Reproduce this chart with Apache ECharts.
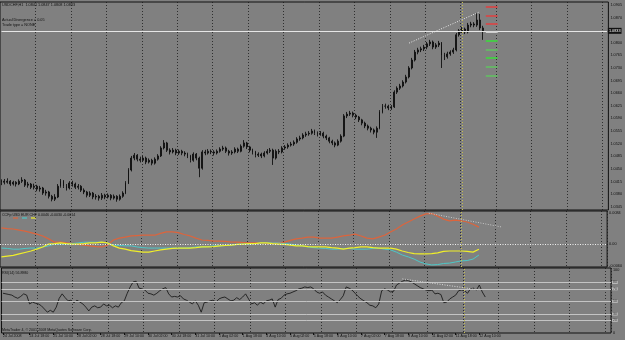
<!DOCTYPE html>
<html>
<head>
<meta charset="utf-8">
<style>
  html, body { margin: 0; padding: 0; background: #808080; }
  #main { width: 625px; height: 340px; }
</style>
<script src="https://cdn.jsdelivr.net/npm/echarts@6/dist/echarts.min.js"></script>
</head>
<body>
<div id="main"></div>
<script>
// trading days shown, each split into 2-hour bars
const days = ['24 Jul', '25 Jul', '28 Jul', '29 Jul', '30 Jul', '31 Jul', '1 Aug', '4 Aug', '5 Aug',
  '6 Aug', '7 Aug', '8 Aug', '11 Aug', '12 Aug', '13 Aug', '14 Aug', '15 Aug', '18 Aug'];
const hours = ['00:00', '02:00', '04:00', '06:00', '08:00', '10:00', '12:00', '14:00', '16:00', '18:00', '20:00', '22:00'];

// USDCHF [open, close, low, high]
const candles = [
  [1.0412, 1.0416, 1.0405, 1.0421], [1.0416, 1.0413, 1.0407, 1.0422], [1.0413, 1.0416, 1.0409, 1.0424],
  [1.0416, 1.0408, 1.0403, 1.0419], [1.0408, 1.0413, 1.0404, 1.0417], [1.0413, 1.0408, 1.0401, 1.0416],
  [1.0408, 1.0416, 1.0405, 1.0421], [1.0416, 1.0419, 1.0411, 1.0427], [1.0419, 1.0405, 1.0400, 1.0422],
  [1.0405, 1.0408, 1.0398, 1.0414], [1.0408, 1.0399, 1.0394, 1.0411], [1.0399, 1.0402, 1.0393, 1.0409],
  [1.0402, 1.0394, 1.0388, 1.0406], [1.0394, 1.0397, 1.0387, 1.0403], [1.0397, 1.0383, 1.0378, 1.0400],
  [1.0383, 1.0386, 1.0376, 1.0392], [1.0386, 1.0374, 1.0368, 1.0389], [1.0374, 1.0366, 1.0360, 1.0378],
  [1.0366, 1.0372, 1.0361, 1.0380], [1.0372, 1.0402, 1.0369, 1.0408], [1.0402, 1.0416, 1.0398, 1.0422],
  [1.0416, 1.0402, 1.0397, 1.0419], [1.0402, 1.0397, 1.0390, 1.0408], [1.0397, 1.0411, 1.0393, 1.0416],
  [1.0411, 1.0408, 1.0401, 1.0417], [1.0408, 1.0399, 1.0394, 1.0412], [1.0399, 1.0402, 1.0393, 1.0408],
  [1.0402, 1.0391, 1.0386, 1.0405], [1.0391, 1.0386, 1.0380, 1.0396], [1.0386, 1.0377, 1.0371, 1.0389],
  [1.0377, 1.0383, 1.0372, 1.0388], [1.0383, 1.0372, 1.0366, 1.0386], [1.0372, 1.0374, 1.0365, 1.0380],
  [1.0374, 1.0369, 1.0362, 1.0378], [1.0369, 1.0377, 1.0364, 1.0383], [1.0377, 1.0372, 1.0366, 1.0381],
  [1.0372, 1.0377, 1.0368, 1.0382], [1.0377, 1.0369, 1.0363, 1.0380], [1.0369, 1.0374, 1.0365, 1.0379],
  [1.0374, 1.0366, 1.0359, 1.0377], [1.0366, 1.0374, 1.0362, 1.0379], [1.0374, 1.0383, 1.0370, 1.0388],
  [1.0383, 1.0411, 1.0380, 1.0416], [1.0411, 1.0447, 1.0408, 1.0452], [1.0447, 1.0480, 1.0443, 1.0486],
  [1.0480, 1.0488, 1.0474, 1.0494], [1.0488, 1.0477, 1.0471, 1.0491], [1.0477, 1.0474, 1.0468, 1.0484],
  [1.0474, 1.0480, 1.0470, 1.0486], [1.0480, 1.0469, 1.0463, 1.0484], [1.0469, 1.0474, 1.0465, 1.0479],
  [1.0474, 1.0466, 1.0460, 1.0478], [1.0466, 1.0477, 1.0462, 1.0482], [1.0477, 1.0486, 1.0473, 1.0491],
  [1.0486, 1.0508, 1.0483, 1.0513], [1.0508, 1.0522, 1.0504, 1.0530], [1.0522, 1.0502, 1.0497, 1.0525],
  [1.0502, 1.0497, 1.0490, 1.0507], [1.0497, 1.0502, 1.0493, 1.0508], [1.0502, 1.0494, 1.0488, 1.0506],
  [1.0494, 1.0499, 1.0489, 1.0504], [1.0499, 1.0494, 1.0488, 1.0503], [1.0494, 1.0491, 1.0485, 1.0499],
  [1.0491, 1.0486, 1.0480, 1.0495], [1.0486, 1.0474, 1.0468, 1.0489], [1.0474, 1.0491, 1.0470, 1.0496],
  [1.0491, 1.0480, 1.0474, 1.0494], [1.0480, 1.0452, 1.0427, 1.0484], [1.0452, 1.0497, 1.0448, 1.0502],
  [1.0497, 1.0494, 1.0488, 1.0503], [1.0494, 1.0499, 1.0490, 1.0505], [1.0499, 1.0497, 1.0491, 1.0504],
  [1.0497, 1.0494, 1.0487, 1.0502], [1.0494, 1.0499, 1.0490, 1.0504], [1.0499, 1.0505, 1.0495, 1.0510],
  [1.0505, 1.0508, 1.0500, 1.0514], [1.0508, 1.0499, 1.0494, 1.0512], [1.0499, 1.0494, 1.0487, 1.0503],
  [1.0494, 1.0497, 1.0489, 1.0502], [1.0497, 1.0505, 1.0493, 1.0510], [1.0505, 1.0499, 1.0494, 1.0509],
  [1.0499, 1.0513, 1.0496, 1.0518], [1.0513, 1.0522, 1.0509, 1.0530], [1.0522, 1.0511, 1.0505, 1.0525],
  [1.0511, 1.0502, 1.0496, 1.0514], [1.0502, 1.0497, 1.0490, 1.0506], [1.0497, 1.0488, 1.0482, 1.0500],
  [1.0488, 1.0491, 1.0483, 1.0496], [1.0491, 1.0486, 1.0480, 1.0495], [1.0486, 1.0494, 1.0482, 1.0499],
  [1.0494, 1.0499, 1.0490, 1.0505], [1.0499, 1.0502, 1.0494, 1.0508], [1.0502, 1.0480, 1.0461, 1.0506],
  [1.0480, 1.0499, 1.0476, 1.0504], [1.0499, 1.0497, 1.0491, 1.0505], [1.0497, 1.0508, 1.0493, 1.0513],
  [1.0508, 1.0511, 1.0503, 1.0516], [1.0511, 1.0516, 1.0506, 1.0521], [1.0516, 1.0519, 1.0512, 1.0525],
  [1.0519, 1.0524, 1.0514, 1.0529], [1.0524, 1.0533, 1.0520, 1.0538], [1.0533, 1.0536, 1.0528, 1.0542],
  [1.0536, 1.0544, 1.0532, 1.0549], [1.0544, 1.0547, 1.0539, 1.0553], [1.0547, 1.0549, 1.0542, 1.0555],
  [1.0549, 1.0555, 1.0545, 1.0561], [1.0555, 1.0549, 1.0544, 1.0559], [1.0549, 1.0547, 1.0540, 1.0554],
  [1.0547, 1.0549, 1.0542, 1.0555], [1.0549, 1.0541, 1.0535, 1.0553], [1.0541, 1.0536, 1.0530, 1.0545],
  [1.0536, 1.0527, 1.0521, 1.0539], [1.0527, 1.0522, 1.0516, 1.0531], [1.0522, 1.0516, 1.0510, 1.0526],
  [1.0516, 1.0527, 1.0513, 1.0532], [1.0527, 1.0541, 1.0523, 1.0546], [1.0541, 1.0597, 1.0538, 1.0602],
  [1.0597, 1.0602, 1.0591, 1.0608], [1.0602, 1.0605, 1.0597, 1.0611], [1.0605, 1.0599, 1.0593, 1.0609],
  [1.0599, 1.0594, 1.0588, 1.0603], [1.0594, 1.0586, 1.0580, 1.0597], [1.0586, 1.0577, 1.0571, 1.0589],
  [1.0577, 1.0569, 1.0563, 1.0581], [1.0569, 1.0563, 1.0557, 1.0573], [1.0563, 1.0558, 1.0551, 1.0567],
  [1.0558, 1.0552, 1.0546, 1.0562], [1.0552, 1.0563, 1.0536, 1.0568], [1.0563, 1.0608, 1.0560, 1.0613],
  [1.0608, 1.0624, 1.0604, 1.0630], [1.0624, 1.0624, 1.0617, 1.0631], [1.0624, 1.0619, 1.0613, 1.0628],
  [1.0619, 1.0622, 1.0614, 1.0627], [1.0622, 1.0663, 1.0619, 1.0668], [1.0663, 1.0674, 1.0658, 1.0679],
  [1.0674, 1.0680, 1.0669, 1.0686], [1.0680, 1.0691, 1.0676, 1.0696], [1.0691, 1.0705, 1.0687, 1.0711],
  [1.0705, 1.0730, 1.0701, 1.0735], [1.0730, 1.0752, 1.0726, 1.0758], [1.0752, 1.0774, 1.0748, 1.0780],
  [1.0774, 1.0780, 1.0768, 1.0786], [1.0780, 1.0783, 1.0774, 1.0789], [1.0783, 1.0788, 1.0777, 1.0794],
  [1.0788, 1.0797, 1.0782, 1.0802], [1.0797, 1.0802, 1.0791, 1.0808], [1.0802, 1.0788, 1.0782, 1.0806],
  [1.0788, 1.0794, 1.0783, 1.0799], [1.0794, 1.0799, 1.0788, 1.0805], [1.0799, 1.0766, 1.0730, 1.0802],
  [1.0766, 1.0761, 1.0752, 1.0772], [1.0761, 1.0769, 1.0756, 1.0775], [1.0769, 1.0774, 1.0764, 1.0779],
  [1.0774, 1.0780, 1.0769, 1.0786], [1.0780, 1.0822, 1.0776, 1.0827], [1.0822, 1.0833, 1.0817, 1.0838],
  [1.0833, 1.0838, 1.0827, 1.0844], [1.0838, 1.0830, 1.0824, 1.0842], [1.0830, 1.0849, 1.0826, 1.0855],
  [1.0849, 1.0852, 1.0843, 1.0858], [1.0852, 1.0849, 1.0843, 1.0857], [1.0849, 1.0863, 1.0844, 1.0883],
  [1.0863, 1.0841, 1.0835, 1.0880], [1.0841, 1.0833, 1.0808, 1.0847]
];

// price axis labels (1.0835 hidden under the bid box)
const priceTicks = [1.0905, 1.0870, 1.0800, 1.0765, 1.0730, 1.0695, 1.0660, 1.0625, 1.0590,
  1.0555, 1.0520, 1.0485, 1.0450, 1.0415, 1.0380, 1.0345];
const bidPrice = 1.0833;
// levels drawn to the right of the last bar
const levelPrices = [1.0899, 1.0876, 1.0852, 1.0830, 1.0805, 1.0781, 1.0757, 1.0733, 1.0708];
// dotted trendline on price: [bar index, price]
const priceTrend = [[138, 1.0799], [162, 1.0886]];

// CCFp currency strength, one value every 4 hours
const ccfUSD = [0.0044, 0.0042, 0.0041, 0.0038, 0.0035, 0.0031, 0.0027, 0.0022, 0.0014, 0.0005,
  0.0005, 0.0003, 0.0001, -0.0001, -0.0003, -0.0005, -0.0007, -0.0008, -0.0003, 0.0011,
  0.0016, 0.0019, 0.0022, 0.0023, 0.0024, 0.0024, 0.0024, 0.0029, 0.0033, 0.0033,
  0.0031, 0.0026, 0.0022, 0.0016, 0.0011, 0.0010, 0.0008, 0.0008, 0.0007, 0.0005,
  0.0005, 0.0004, 0.0003, 0.0003, 0.0003, 0.0001, 0.0003, 0.0003, 0.0005, 0.0010,
  0.0014, 0.0016, 0.0019, 0.0019, 0.0016, 0.0016, 0.0016, 0.0019, 0.0022, 0.0024,
  0.0027, 0.0022, 0.0016, 0.0014, 0.0019, 0.0024, 0.0033, 0.0041, 0.0052, 0.0060,
  0.0068, 0.0076, 0.0082, 0.0083, 0.0076, 0.0068, 0.0063, 0.0065, 0.0063, 0.0060,
  0.0054, 0.0046];
const ccfEUR = [-0.0011, -0.0012, -0.0014, -0.0014, -0.0012, -0.0011, -0.0011, -0.0008, -0.0005, 0.0000,
  0.0000, 0.0000, 0.0001, 0.0003, 0.0005, 0.0005, 0.0005, 0.0005, 0.0003, -0.0003,
  -0.0004, -0.0005, -0.0005, -0.0008, -0.0010, -0.0011, -0.0011, -0.0011, -0.0011, -0.0011,
  -0.0011, -0.0011, -0.0010, -0.0008, -0.0008, -0.0007, -0.0005, -0.0005, -0.0004, -0.0003,
  -0.0001, 0.0000, 0.0000, 0.0001, 0.0003, 0.0003, 0.0003, 0.0003, 0.0001, 0.0000,
  -0.0003, -0.0005, -0.0008, -0.0010, -0.0011, -0.0012, -0.0014, -0.0014, -0.0012, -0.0012,
  -0.0014, -0.0014, -0.0014, -0.0012, -0.0011, -0.0014, -0.0016, -0.0022, -0.0030, -0.0035,
  -0.0041, -0.0049, -0.0054, -0.0057, -0.0056, -0.0053, -0.0052, -0.0049, -0.0046, -0.0045,
  -0.0041, -0.0030];
const ccfCHF = [-0.0035, -0.0033, -0.0031, -0.0027, -0.0023, -0.0019, -0.0014, -0.0008, 0.0000, 0.0001,
  0.0003, 0.0001, 0.0000, 0.0000, 0.0001, 0.0003, 0.0003, 0.0005, 0.0003, -0.0005,
  -0.0011, -0.0014, -0.0018, -0.0020, -0.0022, -0.0022, -0.0019, -0.0016, -0.0014, -0.0012,
  -0.0011, -0.0011, -0.0011, -0.0010, -0.0008, -0.0008, -0.0007, -0.0005, -0.0004, -0.0003,
  -0.0001, 0.0000, 0.0001, 0.0001, 0.0003, 0.0003, 0.0001, 0.0000, -0.0001, -0.0003,
  -0.0005, -0.0005, -0.0007, -0.0008, -0.0008, -0.0008, -0.0010, -0.0011, -0.0014, -0.0011,
  -0.0010, -0.0008, -0.0008, -0.0010, -0.0011, -0.0011, -0.0011, -0.0014, -0.0019, -0.0023,
  -0.0026, -0.0027, -0.0027, -0.0026, -0.0024, -0.0020, -0.0019, -0.0019, -0.0019, -0.0020,
  -0.0022, -0.0014];
const ccfTicks = [-0.0060, 0, 0.0084];
const ccfTrend = [[145, 0.0084], [170, 0.0046]];

// RSI(14), one value per bar
const rsi = [63, 62, 61, 60, 57, 55, 58, 62, 60, 46, 49, 47, 46, 43, 38, 33, 36, 33, 41, 55,
  62, 56, 51, 52, 48, 52, 49, 46, 41, 35, 41, 43, 40, 41, 46, 43, 44, 40, 43, 41,
  48, 51, 63, 73, 81, 82, 71, 70, 68, 63, 62, 60, 63, 67, 70, 72, 62, 57, 58, 57,
  59, 54, 52, 49, 46, 51, 44, 33, 48, 49, 51, 52, 49, 54, 56, 57, 54, 51, 52, 56,
  53, 57, 62, 54, 46, 48, 44, 49, 46, 51, 52, 54, 41, 53, 55, 60, 62, 63, 65, 67,
  70, 71, 73, 72, 73, 70, 65, 63, 65, 60, 57, 54, 51, 48, 53, 59, 73, 71, 68, 63,
  58, 54, 51, 48, 44, 43, 40, 46, 67, 70, 68, 65, 66, 76, 79, 82, 84, 83, 81, 78,
  75, 72, 70, 68, 67, 68, 62, 63, 61, 48, 49, 54, 57, 60, 67, 68, 67, 63, 70, 71,
  68, 76, 65, 57];
const rsiLevels = [80, 70, 50, 30, 20];
const rsiTrend = [[135, 85.7], [161, 68.3]];

const categories = [];
days.forEach(d => hours.forEach(h => categories.push(d + ' ' + h)));
const lastBar = candles.length - 1;
const lastSlot = 205;
const dayStart = 13 * hours.length; // 12 Aug 00:00

const ccfPoints = arr => arr.map((v, k) => [categories[k * 2], v]);
const tinyFont = 'Liberation Sans, Arial, sans-serif';

const sepLine = { show: true, interval: i => i > 0 && i % hours.length === 0, lineStyle: { color: '#1a1a1a', type: [1, 2], width: 0.8 } };
const yellowSep = { xAxis: categories[dayStart], lineStyle: { color: '#c8c050', type: [1, 2], width: 1 } };
const showLabel = i => i === 0 || (i >= 9 && i <= lastBar && (i - 9) % 8 === 0);

function xAxisFor(grid, withLabels) {
  return {
    type: 'category', gridIndex: grid, data: categories, max: lastSlot, boundaryGap: true,
    axisLine: { show: false },
    axisTick: withLabels ? {
      show: true, length: 2, alignWithLabel: true, interval: showLabel, lineStyle: { color: '#111' }
    } : { show: false },
    axisLabel: withLabels ? {
      show: true, fontSize: 3.6, color: '#111', fontFamily: tinyFont, margin: 1, align: 'left',
      interval: showLabel, formatter: (v, i) => i === 0 ? '24 Jul 2008' : v
    } : { show: false },
    splitLine: sepLine
  };
}

const levelColors = ['#d24a4a', '#d24a4a', '#d24a4a', '#d8d8d8', '#44d044', '#66b866', '#44d044', '#66b866', '#66b866'];

const chart = echarts.init(document.getElementById('main'), null, { renderer: 'canvas' });
chart.setOption({
  animation: false,
  backgroundColor: '#808080',
  grid: [
    { left: 0, right: 14, top: 2, height: 208, show: true, borderColor: '#111', borderWidth: 1 },
    { left: 0, right: 14, top: 211, height: 56, show: true, borderColor: '#111', borderWidth: 1 },
    { left: 0, right: 14, top: 268, height: 65, show: true, borderColor: '#111', borderWidth: 1 }
  ],
  xAxis: [xAxisFor(0, false), xAxisFor(1, false), xAxisFor(2, true)],
  yAxis: [
    {
      type: 'value', gridIndex: 0, position: 'right', min: 1.0336, max: 1.0913,
      axisLine: { show: false }, axisTick: { show: false }, splitLine: { show: false },
      axisLabel: { customValues: priceTicks, fontSize: 3.8, color: '#111', fontFamily: tinyFont, margin: 2,
        formatter: v => v.toFixed(4) }
    },
    {
      type: 'value', gridIndex: 1, position: 'right', min: -0.00626, max: 0.0090,
      axisLine: { show: false }, axisTick: { show: false }, splitLine: { show: false },
      axisLabel: { customValues: ccfTicks, fontSize: 3.8, color: '#111', fontFamily: tinyFont, margin: 2,
        formatter: v => v === 0 ? '0.00' : v.toFixed(4) }
    },
    {
      type: 'value', gridIndex: 2, position: 'right', min: 0, max: 103,
      axisLine: { show: false }, axisTick: { show: false }, splitLine: { show: false },
      axisLabel: { customValues: [0, 100], fontSize: 3.8, color: '#111', fontFamily: tinyFont, margin: 2 }
    }
  ],
  series: [
    {
      type: 'candlestick', xAxisIndex: 0, yAxisIndex: 0, data: candles, barMaxWidth: 1.4,
      itemStyle: { color: '#111', color0: '#111', borderColor: '#111', borderColor0: '#111', borderWidth: 0.9 },
      markLine: {
        symbol: 'none', silent: true,
        data: [
          [{ coord: [categories[0], bidPrice], lineStyle: { color: '#e6e6e6', type: 'solid', width: 1.2 } },
           { coord: [categories[lastSlot], bidPrice],
             label: { show: true, position: 'end', distance: 1, formatter: bidPrice.toFixed(4), color: '#fff',
               backgroundColor: '#111', fontSize: 3.8, fontFamily: tinyFont, padding: [1, 1] } }],
          [{ coord: [categories[priceTrend[0][0]], priceTrend[0][1]], lineStyle: { color: '#e8e8e8', type: [1, 1.5], width: 1 } },
           { coord: [categories[priceTrend[1][0]], priceTrend[1][1]] }],
          yellowSep,
          ...levelPrices.map((p, k) => [
            { coord: [categories[lastBar + 1], p], lineStyle: { color: levelColors[k], type: 'solid', width: 1.8 } },
            { coord: [categories[lastBar + 5], p] }
          ])
        ],
        label: { show: false }
      }
    },
    {
      type: 'line', xAxisIndex: 1, yAxisIndex: 1, data: ccfPoints(ccfUSD), showSymbol: false,
      lineStyle: { color: '#dc643c', width: 1.2 },
      markLine: {
        symbol: 'none', silent: true, label: { show: false },
        data: [
          { yAxis: 0, lineStyle: { color: '#f0f0f0', type: [1, 1.5], width: 1 } },
          [{ coord: [categories[ccfTrend[0][0]], ccfTrend[0][1]], lineStyle: { color: '#c8c8c8', type: [1, 1.5], width: 1 } },
           { coord: [categories[ccfTrend[1][0]], ccfTrend[1][1]] }],
          yellowSep
        ]
      }
    },
    {
      type: 'line', xAxisIndex: 1, yAxisIndex: 1, data: ccfPoints(ccfEUR), showSymbol: false,
      lineStyle: { color: '#4cc8c8', width: 1 }
    },
    {
      type: 'line', xAxisIndex: 1, yAxisIndex: 1, data: ccfPoints(ccfCHF), showSymbol: false,
      lineStyle: { color: '#f0ee28', width: 1.2 }
    },
    {
      type: 'line', xAxisIndex: 2, yAxisIndex: 2, data: rsi, showSymbol: false,
      lineStyle: { color: '#1c1c1c', width: 0.9 },
      markLine: {
        symbol: 'none', silent: true,
        data: [
          ...rsiLevels.map(v => ({ yAxis: v, lineStyle: { color: '#c4c4c4', type: 'solid', width: 1 },
            label: { show: true, position: 'end', distance: 1, formatter: String(v), color: '#333',
              backgroundColor: '#b8b8b8', fontSize: 3.4, fontFamily: tinyFont, padding: [0, 1] } })),
          [{ coord: [categories[rsiTrend[0][0]], rsiTrend[0][1]], lineStyle: { color: '#d8d8d8', type: [1, 1.5], width: 1 } },
           { coord: [categories[rsiTrend[1][0]], rsiTrend[1][1]] }],
          yellowSep
        ],
        label: { show: false }
      }
    }
  ],
  graphic: [
    { type: 'text', left: 2, top: 3, style: { text: 'USDCHF,H1  1.0841 1.0847 1.0808 1.0833', fontSize: 3.8, fill: '#111', fontFamily: tinyFont } },
    { type: 'text', left: 2, top: 18, style: { text: 'Actual Divergence = 0.05', fontSize: 3.8, fill: '#111', fontFamily: tinyFont } },
    { type: 'text', left: 2, top: 23, style: { text: 'Trade type = NONE', fontSize: 3.8, fill: '#111', fontFamily: tinyFont } },
    { type: 'text', left: 2, top: 213, style: { text: 'CCFp USD EUR CHF 0.0046 -0.0030 -0.0014', fontSize: 3.6, fill: '#111', fontFamily: tinyFont } },
    { type: 'line', shape: { x1: 13, y1: 218, x2: 18, y2: 218 }, style: { stroke: '#dc643c', lineWidth: 1.2 } },
    { type: 'line', shape: { x1: 22, y1: 218, x2: 27, y2: 218 }, style: { stroke: '#4cc8c8', lineWidth: 1.2 } },
    { type: 'line', shape: { x1: 31, y1: 218, x2: 36, y2: 218 }, style: { stroke: '#f0ee28', lineWidth: 1.2 } },
    { type: 'text', left: 2, top: 271, style: { text: 'RSI(14) 56.8980', fontSize: 3.6, fill: '#111', fontFamily: tinyFont } },
    { type: 'text', left: 2, top: 328, style: { text: 'MetaTrader 4, © 2001-2008 MetaQuotes Software Corp.', fontSize: 3.6, fill: '#111', fontFamily: tinyFont } }
  ]
});
</script>
</body>
</html>
